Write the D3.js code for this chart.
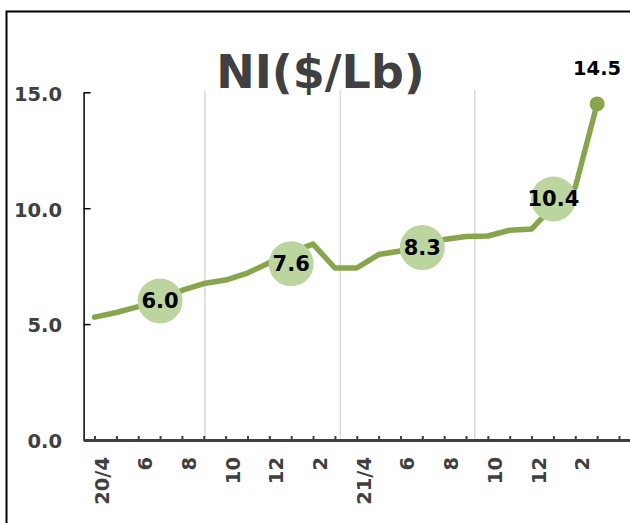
<!DOCTYPE html>
<html>
<head>
<meta charset="utf-8">
<script src="https://cdn.jsdelivr.net/npm/d3@7"></script>
<style>
  html, body { margin: 0; padding: 0; background: #fff; }
  svg { display: block; }
  text { font-family: "DejaVu Sans", Verdana, sans-serif; font-weight: bold; }
</style>
</head>
<body>
<svg id="chart" width="630" height="523"></svg>
<script>
// Monthly nickel price, $/lb, April 2020 – March 2022
const months = ["20/4","5","6","7","8","9","10","11","12","1","2","3",
                "21/4","5","6","7","8","9","10","11","12","1","2","3"];
const monthly = [5.3, 5.5, 5.75, 6.05, 6.45, 6.75, 6.9, 7.2, 7.65, 8.1, 8.45, 7.42,
                 7.42, 8.0, 8.15, 8.5, 8.65, 8.78, 8.8, 9.05, 9.1, 10.1, 10.9, 14.5];

// Half-year averages (Apr–Sep / Oct–Mar) and the month each one is drawn at
const halfYearMonth = ["20/7", "21/1", "21/7", "22/1"];
const halfYearIndex = [3, 9, 15, 21];
const halfYearMean = [6.0, 7.6, 8.3, 10.4];

// Vertical separators between the half-years, in month-index units
const halfYearBreaks = [5.05, 11.25, 17.4];

const yTicks = [0, 5, 10, 15];
const title = "NI($/Lb)";

const svg = d3.select("#chart");
const W = 630, H = 523;

const x = d3.scaleLinear().domain([-0.5, 24.5]).range([83.6, 629.9]);
const y = d3.scaleLinear().domain([0, 15]).range([440, 92.3]);

const lineColor = "#88a54d";
const bubbleColor = "#bcd49e";
const axisGray = "#404040";
const fontStack = "DejaVu Sans, Verdana, sans-serif";

// outer frame
svg.append("rect")
  .attr("x", 6.5).attr("y", 11.5)
  .attr("width", W).attr("height", H)
  .attr("fill", "none").attr("stroke", "#000").attr("stroke-width", 2);

// title
svg.append("text")
  .attr("x", 320.5).attr("y", 88)
  .attr("text-anchor", "middle")
  .attr("font-size", 46)
  .attr("fill", axisGray)
  .text(title);

// half-year separators
svg.append("g").selectAll("line")
  .data(halfYearBreaks)
  .join("line")
  .attr("x1", d => x(d)).attr("x2", d => x(d))
  .attr("y1", y(15) - 2).attr("y2", y(0))
  .attr("stroke", "#d9d9d9").attr("stroke-width", 1.5);

// y axis
const yAxis = svg.append("g")
  .attr("transform", `translate(${x(-0.5)},0)`)
  .call(d3.axisLeft(y).tickValues(yTicks).tickSizeInner(-7).tickSizeOuter(0)
        .tickPadding(21.5).tickFormat(d3.format(".1f")));
yAxis.select(".domain").attr("stroke", "#000").attr("stroke-width", 1.5);
yAxis.selectAll(".tick line").attr("stroke", "#000").attr("stroke-width", 1.5);
yAxis.selectAll(".tick text")
  .attr("dy", "0.4em")
  .attr("font-size", 19.5).attr("fill", axisGray)
  .attr("font-family", fontStack).attr("font-weight", "bold");

// x axis
const xAxis = svg.append("g")
  .attr("transform", `translate(0,${y(0)})`)
  .call(d3.axisBottom(x).tickValues(d3.range(0, 25)).tickSizeInner(-4).tickSizeOuter(0)
        .tickFormat(i => (i < months.length && i % 2 === 0) ? months[i] : ""));
xAxis.select(".domain").attr("stroke", axisGray).attr("stroke-width", 3);
xAxis.selectAll(".tick line").attr("stroke", axisGray).attr("stroke-width", 2);
xAxis.selectAll(".tick text")
  .attr("x", 0).attr("y", 0).attr("dy", "0.36em")
  .attr("text-anchor", "end")
  .attr("transform", "translate(6.5,17) rotate(-90)")
  .attr("font-size", 19.5).attr("fill", axisGray)
  .attr("font-family", fontStack).attr("font-weight", "bold");

// monthly price line
const line = d3.line().x((d, i) => x(i)).y(d => y(d));
svg.append("path")
  .datum(monthly)
  .attr("d", line)
  .attr("fill", "none")
  .attr("stroke", lineColor)
  .attr("stroke-width", 5.5)
  .attr("stroke-linejoin", "round")
  .attr("stroke-linecap", "round");

// latest month marker and its value
const last = monthly.length - 1;
svg.append("circle")
  .attr("cx", x(last)).attr("cy", y(monthly[last]))
  .attr("r", 7.5).attr("fill", lineColor);
svg.append("text")
  .attr("x", x(last)).attr("y", y(monthly[last]) - 29)
  .attr("text-anchor", "middle")
  .attr("font-size", 19.5).attr("fill", "#000")
  .text(d3.format(".1f")(monthly[last]));

// half-year average bubbles
const halves = halfYearMean.map((v, k) => ({ v, i: halfYearIndex[k], m: halfYearMonth[k] }));
const bubbles = svg.append("g").selectAll("g")
  .data(halves)
  .join("g")
  .attr("transform", d => `translate(${x(d.i)},${y(d.v)})`);
bubbles.append("circle").attr("r", 22.5).attr("fill", bubbleColor);
bubbles.append("text")
  .attr("text-anchor", "middle").attr("dy", "0.36em")
  .attr("font-size", 21).attr("fill", "#000")
  .text(d => d3.format(".1f")(d.v));
</script>
</body>
</html>
